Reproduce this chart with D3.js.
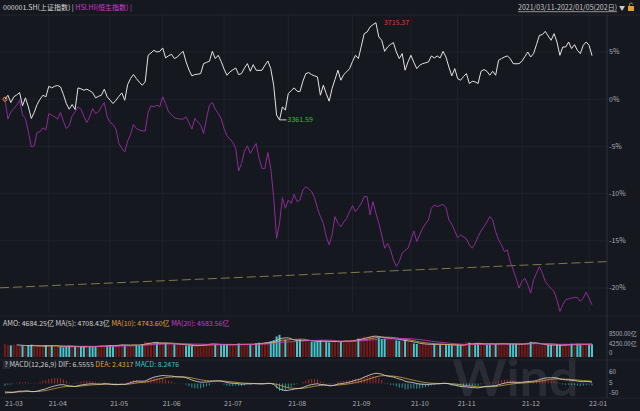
<!DOCTYPE html>
<html>
<head>
<meta charset="utf-8">
<script src="https://cdn.jsdelivr.net/npm/d3@7"></script>
<style>
  body { margin: 0; background: #15181f; }
  svg { display: block; }
</style>
</head>
<body>
<div id="chart"></div>
<script>
// daily change vs 2021-03-11 close, in %
const shPct = [
  0, 0.42, -0.35, 0.25, 0.45, 0.70, -0.70, 0.14, -0.81, -2.04, -1.40, -0.56, 0.0, 0.42, 0.25,
  1.37, 1.20, 1.37, 1.45, 1.30, 0.5, -0.46, -1.06, -0.56, -1.09, 1.20, 1.10, 0.95, 1.06, 0.9, 0.70, 0.14, 0.3, 0.42, 1.06, 0.25,
  -0.1, -0.46, -0.11, 0.3, 0.67, -0.11, 1.55, 2.2, 2.61, 2.18, 1.8, 1.48, 1.83, 4.65, 4.9, 5.18, 5.0, 5.07,
  5.43, 4.37, 4.6, 4.76, 4.30, 4.47, 4.8, 5.07, 3.95, 3.1, 2.47, 2.61, 2.65, 2.71, 3.77, 3.9, 4.02, 5.07, 4.30, 4.65, 4.02,
  3.2, 2.54, 2.89, 3.1, 3.31, 2.61, 2.71, 3.3, 3.77, 2.96, 3.66, 3.07, 3.05, 3.07, 3.6, 4.05, 3.24, 1.48, -1.69, -2.19, -0.81, -1.16,
  0.60, 0.9, 1.20, 0.85, 0.80, 1.9, 2.71, 2.82, 2.6, 2.47, 2.36, 0.42, 1.48, 0.6, -0.21, 1.13, 2.1, 3.07, 2.01, 2.61, 2.9, 3.24,
  4.0, 4.65, 4.30, 5.6, 6.94, 7.12, 7.65, 7.9, 8.10, 6.59, 6.24, 5.07, 5.53, 5.8, 5.99, 5.00, 4.30, 4.83, 3.07, 3.95,
  4.65, 3.9, 3.24, 3.59, 3.77, 3.85, 3.95, 4.58, 4.37, 4.58, 4.37, 5.07, 4.47, 3.4, 2.47, 3.24,
  2.18, 2.01, 2.4, 2.71, 1.66, 1.90, 1.83, 1.66, 2.96, 3.14, 2.96, 2.54, 2.96, 2.54, 4.12, 4.3, 4.47, 4.58, 4.30, 3.77, 3.75, 3.77,
  4.02, 4.5, 5.00, 4.47, 4.83, 5.8, 6.77, 6.84, 7.19, 6.69, 6.24, 6.94, 6.06, 4.65, 5.53, 5.53, 6.06, 5.36, 5.78, 5.18, 4.83, 5.71, 6.06,
  5.71, 4.61
];
const hsiPct = [
  0, -2.11, -1.34, -1.0, -0.63, -0.11, -1.69, -2.04, -3.45, -5.04, -4.93, -3.52, -3.45, -3.03, -3.28,
  -1.52, -1.7, -1.87, -2.11, -1.41, -2.33, -3.10, -2.82, -1.76, -1.34, -0.81, -1.06, -1.8, -2.47, -1.87, -0.99, -1.52, -1.34, -0.8, -0.35, -1.87,
  -2.47, -2.68, -3.17, -4.69, -5.2, -5.57, -4.44, -3.74, -2.68, -3.10, -3.28, -3.35, -3.38, -1.41, -0.70, -0.81, -0.63, -0.81,
  0.25, -0.46, -1.34, -1.62, -1.97, -2.05, -2.11, -2.11, -1.87, -2.5, -3.17, -2.04, -2.4, -2.75, -3.63, -2.04, -0.63, -0.35, -1.06, -1.5, -2.04,
  -3.10, -3.88, -4.2, -4.58, -5.21, -7.61, -6.80, -5.50, -4.93, -5.74, -5.2, -4.69, -6.27, -7.33, -7.33, -5.64, -7.33, -10.39, -14.73, -13.14, -10.43, -11.56,
  -10.68, -11.03, -10.08, -10.85, -10.68, -9.62, -9.27, -9.5, -9.80, -10.43, -11.56, -12.44, -13.14, -14.55, -15.43, -14.38, -12.44, -13.14, -13.50, -13.0, -12.61, -11.91,
  -11.28, -11.91, -11.5, -11.03, -10.32, -10.32, -12.26, -10.85, -12.09, -13.14, -14.38, -15.79, -15.26, -15.96, -17.02, -17.72, -17.20, -16.31, -16.0, -15.79,
  -14.90, -13.95, -15.08, -14.38, -13.67, -13.2, -12.79, -11.56, -11.21, -11.38, -11.25, -11.13, -11.49, -12.79, -13.25, -13.95,
  -14.66, -14.38, -14.6, -14.80, -15.43, -15.79, -15.26, -14.55, -13.95, -13.50, -13.0, -12.44, -12.79, -14.02, -14.90, -15.43, -16.14, -15.96, -17.20, -18.08, -18.96, -20.01,
  -19.31, -18.96, -19.66, -20.54, -19.13, -18.43, -17.72, -18.43, -19.31, -19.7, -20.08, -20.37, -21.25, -22.48, -21.78, -21.25, -21.15, -21.07, -21.0, -21.00, -21.42, -21.07, -20.44,
  -21.07, -21.78
];
// turnover, 亿
const amo = [
  4800, 4500, 4300, 4600, 4200, 4400, 4100, 3900, 4300, 4500, 4000, 3800, 3900, 4200, 4400,
  4300, 4100, 3900, 4000, 3700, 3600, 3800, 4200, 3900, 3700, 3500, 3800, 4000, 4100, 3900, 3700, 3800, 4200, 4400, 4000, 4100,
  4300, 4100, 4500, 4600, 4800, 4200, 4000, 4300, 4700, 4500, 4400, 4600, 5800, 5600, 5200, 5400, 5000, 4900,
  5300, 5100, 4800, 4600, 4700, 4900, 4500, 4400, 4200, 4300, 4100, 4000, 4300, 4600, 4800, 4700, 5000, 4900, 4600, 4500, 4400,
  4800, 4600, 4500, 4400, 4700, 5000, 4800, 4600, 4500, 4700, 4900, 5100, 5300, 5200, 5400, 5600, 5800, 6200, 7600, 8200, 6900, 6400,
  6300, 6000, 5800, 6100, 6500, 6200, 5900, 6000, 5700, 5500, 5800, 6200, 5900, 5600, 5400, 5700, 6000, 5800, 5600, 5900, 6100, 6000,
  6300, 6500, 6800, 7200, 7600, 7400, 7800, 8000, 7700, 7000, 6600, 6800, 7100, 6900, 6400, 6200, 6000, 5800, 6100, 5700,
  5200, 5000, 4800, 4700, 4900, 4600, 4500, 4800, 4700, 4900, 4600, 4500, 4400, 4600, 4300, 4400,
  4500, 4300, 4400, 5600, 5300, 4800, 4700, 4900, 5000, 4800, 4600, 4700, 4900, 4800, 5100, 5000, 4700, 4600, 4800, 4900, 4700, 4600,
  4800, 5200, 5400, 5600, 5300, 4500, 4400, 4300, 4600, 4500, 4400, 4300, 4500, 4335, 4400, 4800, 4700, 4900, 4700, 4794, 4600, 4700, 4758,
  4800, 4684.25
];
const shBase = 3436.83;
const holidays = ['2021-04-05', '2021-05-03', '2021-05-04', '2021-05-05', '2021-06-14', '2021-09-20', '2021-09-21',
  '2021-10-01', '2021-10-04', '2021-10-05', '2021-10-06', '2021-10-07', '2022-01-03'];
const pctTicks = [5, 0, -5, -10, -15, -20];
const volTicks = [8500, 4250, 0];
const volTickLabels = ['8500.00亿', '4250.00亿', '0'];
const macdTicks = [60, 5, -50];
const trendPct = [-19.98, -17.2]; // dashed line, left and right edge
const macdSeed = { ema12: 3482, ema26: 3532, dea: -42 };
const hiLabel = '3715.37', loLabel = '3361.59';

const W = 640, H = 411;
const axisX = 607;
const font = '"Noto Sans CJK SC", "Noto Sans", sans-serif';
const txt = '#a9adb5';

const fmtDay = d3.utcFormat('%Y-%m-%d');
const days = d3.utcDay
  .range(new Date(Date.UTC(2021, 2, 11)), new Date(Date.UTC(2022, 0, 6)))
  .filter(d => d.getUTCDay() % 6 !== 0 && !holidays.includes(fmtDay(d)));
const monthStarts = days.map((d, i) => i)
  .filter(i => i === 0 || days[i].getUTCMonth() !== days[i - 1].getUTCMonth());

const x = d3.scaleLinear().domain([0, days.length - 1]).range([5, 592]);
const y = d3.scaleLinear().domain([-20, 5]).range([288, 52]);
const yVol = d3.scaleLinear().domain([0, 8500]).range([357, 334]);
const yMacd = d3.scaleLinear().domain([-50, 60]).range([393, 372]);

const svg = d3.select('#chart').append('svg').attr('width', W).attr('height', H)
  .style('font-family', font);
svg.append('rect').attr('width', W).attr('height', H).attr('fill', '#15181f');

// watermark
svg.append('text').attr('x', 452).attr('y', 396).text('Wind')
  .attr('font-size', 52).attr('font-weight', 'bold').attr('fill', '#292c33')
  .style('font-family', 'Lato, sans-serif');

// grid
const g = svg.append('g');
g.selectAll('.hg').data(pctTicks).join('line')
  .attr('x1', 0).attr('x2', axisX).attr('y1', d => y(d)).attr('y2', d => y(d))
  .attr('stroke', '#1f232a');
g.selectAll('.vg').data(monthStarts.slice(1)).join('line')
  .attr('x1', d => x(d)).attr('x2', d => x(d)).attr('y1', 15).attr('y2', 312)
  .attr('stroke', '#1f232a');
[15, 316, 360, 398].forEach(v => g.append('line').attr('x1', 0).attr('x2', W)
  .attr('y1', v).attr('y2', v).attr('stroke', '#22262d'));
g.append('line').attr('x1', axisX).attr('x2', axisX).attr('y1', 15).attr('y2', 398)
  .attr('stroke', '#2c3038');

// right axis labels
g.selectAll('.pl').data(pctTicks).join('text')
  .attr('x', axisX + 2).attr('y', d => y(d)).attr('dy', '0.35em')
  .attr('font-size', 7).attr('fill', txt).text(d => d + '%');
g.selectAll('.vl').data(volTicks).join('text')
  .attr('x', axisX + 2).attr('y', (d, i) => yVol(d) + [0, -2, -4.5][i]).attr('dy', '0.35em')
  .attr('font-size', 6).attr('fill', txt).text((d, i) => volTickLabels[i]);
g.selectAll('.ml').data(macdTicks).join('text')
  .attr('x', axisX + 2).attr('y', d => yMacd(d)).attr('dy', '0.35em')
  .attr('font-size', 6.5).attr('fill', txt).text(d => d);

// month labels
g.selectAll('.xl').data(monthStarts).join('text')
  .attr('x', d => x(d)).attr('y', 404).attr('dy', '0.35em')
  .attr('font-size', 7).attr('fill', txt).text(d => d3.utcFormat('%y-%m')(days[d]));

// dashed trend line
g.append('line').attr('x1', 0).attr('x2', axisX)
  .attr('y1', y(trendPct[0])).attr('y2', y(trendPct[1]))
  .attr('stroke', '#86864f').attr('stroke-dasharray', '9,4').attr('stroke-width', 0.9);

// price lines
const line = d3.line().x((d, i) => x(i)).y(d => y(d));
g.append('path').attr('d', line(hsiPct)).attr('fill', 'none')
  .attr('stroke', '#8e2c96').attr('stroke-width', 1);
g.append('path').attr('d', line(shPct)).attr('fill', 'none')
  .attr('stroke', '#e4e4e4').attr('stroke-width', 1);
g.append('circle').attr('cx', x(0)).attr('cy', y(0)).attr('r', 2)
  .attr('fill', 'none').attr('stroke', '#f07a2a').attr('stroke-width', 1);

// high / low marks
const hi = d3.maxIndex(shPct), lo = d3.minIndex(shPct);
g.append('text').attr('x', x(hi) + 8).attr('y', y(shPct[hi])).attr('dy', '0.35em')
  .attr('font-size', 7).attr('fill', '#e03a3a').text(hiLabel);
g.append('line').attr('x1', x(lo)).attr('x2', x(lo) + 7)
  .attr('y1', y(shPct[lo])).attr('y2', y(shPct[lo])).attr('stroke', '#cfcfcf');
g.append('text').attr('x', x(lo) + 8).attr('y', y(shPct[lo])).attr('dy', '0.35em')
  .attr('font-size', 7).attr('fill', '#35c24a').text(loLabel);

// volume
g.selectAll('.vb').data(amo).join('rect')
  .attr('x', (d, i) => x(i) - 1).attr('width', 2)
  .attr('y', d => yVol(d)).attr('height', d => yVol(0) - yVol(d))
  .attr('fill', (d, i) => (i === 0 || shPct[i] >= shPct[i - 1]) ? '#741919' : '#49c9cf');
const ma = n => amo.map((v, i) => i < n - 1 ? null : d3.mean(amo.slice(i - n + 1, i + 1)));
const volLine = d3.line().defined(d => d != null).x((d, i) => x(i)).y(d => yVol(d));
[[5, '#d8d8d8'], [10, '#e0a040'], [20, '#c83ccc']].forEach(([n, c]) =>
  g.append('path').attr('d', volLine(ma(n))).attr('fill', 'none')
    .attr('stroke', c).attr('stroke-width', 0.8));

// MACD
let e12 = macdSeed.ema12, e26 = macdSeed.ema26, dea = macdSeed.dea;
const macd = shPct.map(p => {
  const c = shBase * (1 + p / 100);
  e12 = (2 * c + 11 * e12) / 13;
  e26 = (2 * c + 25 * e26) / 27;
  const dif = e12 - e26;
  dea = (2 * dif + 8 * dea) / 10;
  return { dif, dea, hist: 2 * (dif - dea) };
});
g.selectAll('.mh').data(macd).join('line')
  .attr('x1', (d, i) => x(i)).attr('x2', (d, i) => x(i))
  .attr('y1', yMacd(0)).attr('y2', d => yMacd(d.hist))
  .attr('stroke', d => d.hist >= 0 ? '#c83434' : '#3fb8b8').attr('stroke-width', 0.8);
const mLine = k => d3.line().x((d, i) => x(i)).y(d => yMacd(d[k]))(macd);
g.append('path').attr('d', mLine('dea')).attr('fill', 'none').attr('stroke', '#d6a23c').attr('stroke-width', 0.8);
g.append('path').attr('d', mLine('dif')).attr('fill', 'none').attr('stroke', '#dcdcdc').attr('stroke-width', 0.8);

// headers
const h1 = svg.append('text').attr('x', 3).attr('y', 8).attr('dy', '0.35em').attr('font-size', 7);
h1.append('tspan').attr('fill', '#d8d8d8').text('000001.SH(上证指数) | ');
h1.append('tspan').attr('fill', '#d13dd1').text('HSI.HI(恒生指数) |');

svg.append('text').attr('x', 617).attr('y', 8).attr('dy', '0.35em').attr('text-anchor', 'end')
  .attr('font-size', 7).attr('fill', '#c8c8c8').attr('text-decoration', 'underline')
  .text('2021/03/11-2022/01/05(202日)');
svg.append('text').attr('x', 619).attr('y', 8).attr('dy', '0.35em')
  .attr('font-size', 6).attr('fill', '#c8c8c8').text('▼');
svg.append('rect').attr('x', 628).attr('y', 6).attr('width', 6).attr('height', 5).attr('fill', '#e0a020');
svg.append('path').attr('d', 'M629.5,6 v-1.5 a1.5,1.5 0 0 1 3,0').attr('fill', 'none')
  .attr('stroke', '#e0a020').attr('stroke-width', 0.8);

const h2 = svg.append('text').attr('x', 3).attr('y', 324).attr('dy', '0.35em').attr('font-size', 7);
h2.append('tspan').attr('fill', '#d0d0d0').text('AMO: 4684.25亿 MA(5): 4708.43亿 ');
h2.append('tspan').attr('fill', '#e0a040').text('MA(10): 4743.60亿 ');
h2.append('tspan').attr('fill', '#c83ccc').text('MA(20): 4583.56亿');

svg.append('rect').attr('x', 3).attr('y', 361).attr('width', 7).attr('height', 8).attr('fill', '#262a31');
const h3 = svg.append('text').attr('x', 4.5).attr('y', 365).attr('dy', '0.35em').attr('font-size', 7);
h3.append('tspan').attr('fill', '#d0d0d0').text('? MACD(12,26,9) DIF: 6.5555 ');
h3.append('tspan').attr('fill', '#e0a040').text('DEA: 2.4317 ');
h3.append('tspan').attr('fill', '#3fc4c8').text('MACD: 8.2476');
</script>
</body>
</html>
